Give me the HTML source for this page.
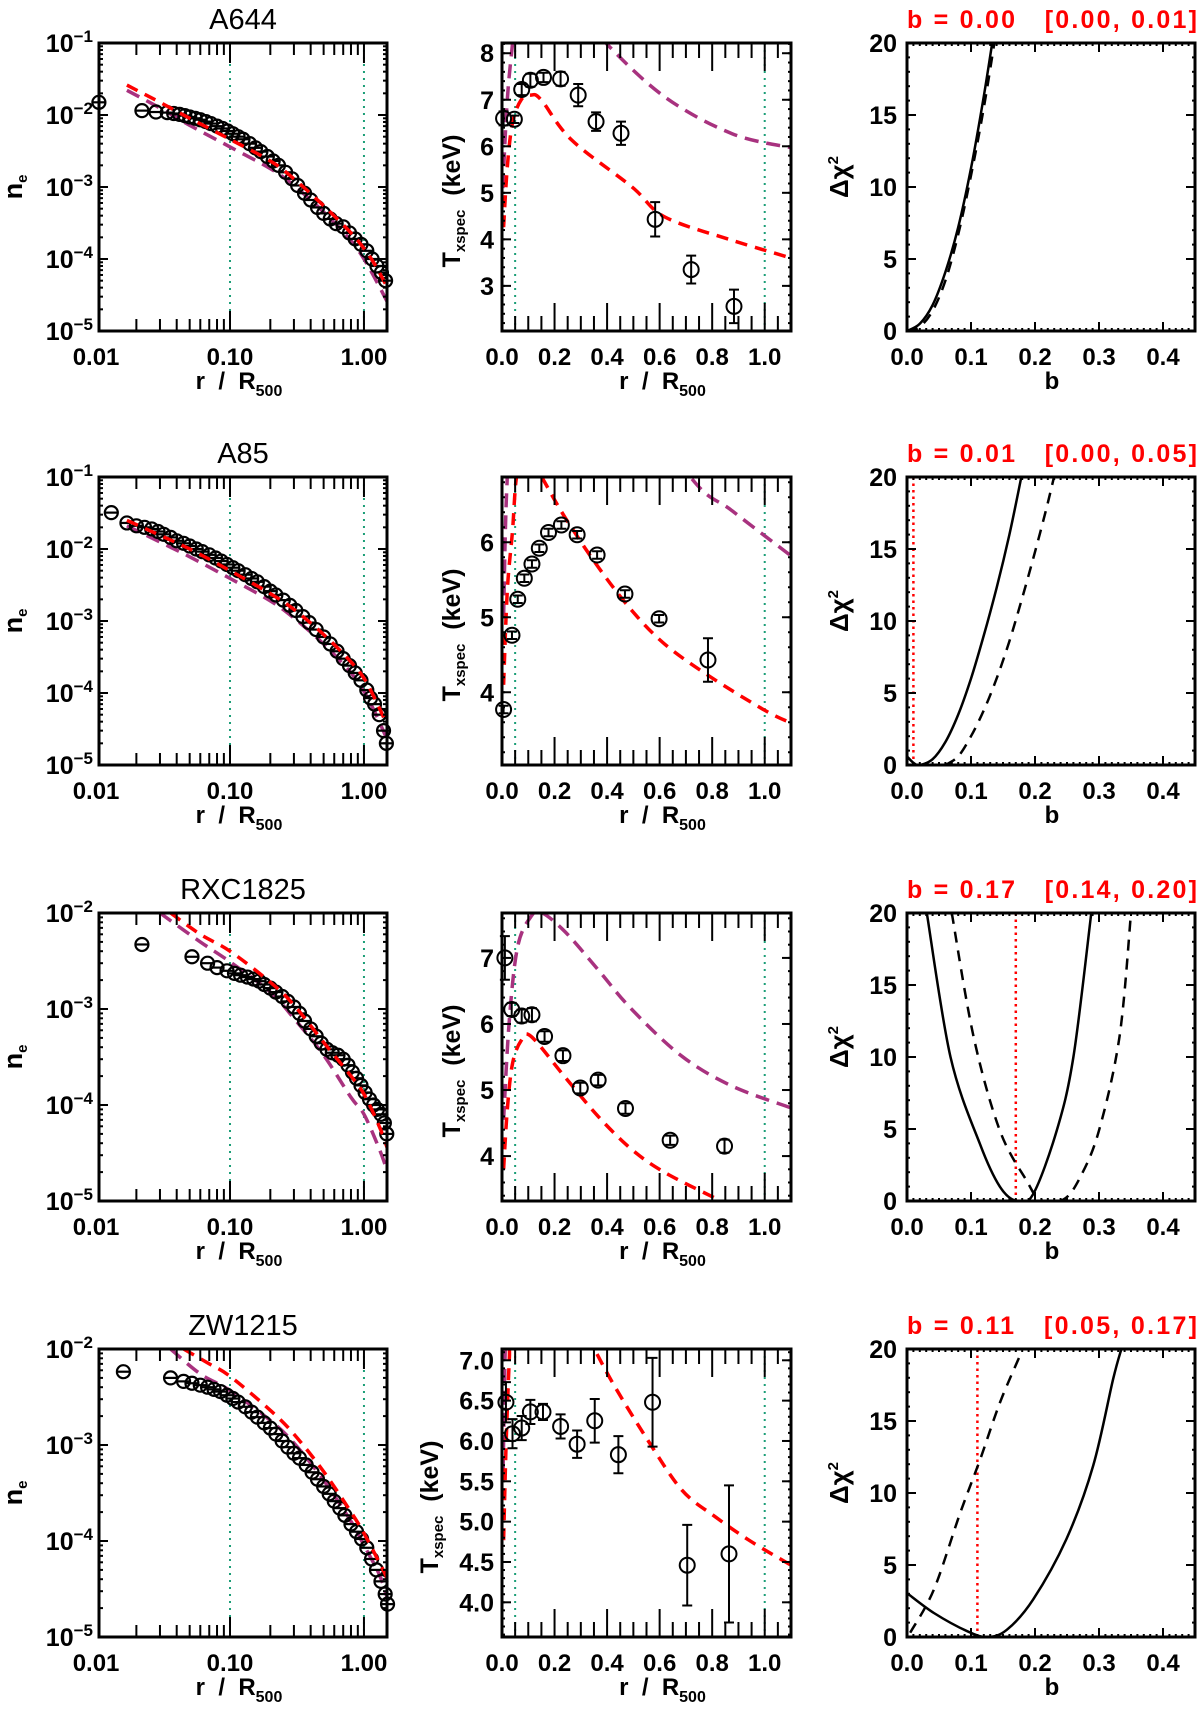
<!DOCTYPE html>
<html><head><meta charset="utf-8"><style>
html,body{margin:0;padding:0;background:#fff;}
svg{display:block;font-family:"Liberation Sans",sans-serif;}
</style></head><body>
<svg id="chart" width="1200" height="1714" viewBox="0 0 1200 1714" xmlns="http://www.w3.org/2000/svg"></svg>
<script>
// ---------- data ----------
const rowNames = ['A644','A85','RXC1825','ZW1215'];
const bBest = [0.00, 0.01, 0.17, 0.11];
const bLo = [0.00, 0.00, 0.14, 0.05];
const bHi = [0.01, 0.05, 0.20, 0.17];

// density profiles
const neR_A644 = [0.0105,0.022,0.028,0.034,0.038,0.042,0.046,0.05,0.055,0.06,0.066,0.072,0.08,0.088,0.096,0.105,0.115,0.125,0.14,0.155,0.17,0.19,0.21,0.23,0.26,0.29,0.32,0.36,0.4,0.45,0.5,0.56,0.62,0.7,0.78,0.86,0.95,1.05,1.15,1.25,1.35,1.45];
const neV_A644 = [1.5e-2,1.15e-2,1.1e-2,1.08e-2,1.05e-2,1.02e-2,9.8e-3,9.4e-3,9.0e-3,8.6e-3,8.1e-3,7.6e-3,7.0e-3,6.5e-3,6.0e-3,5.5e-3,5.0e-3,4.6e-3,4.0e-3,3.5e-3,3.1e-3,2.65e-3,2.3e-3,2.0e-3,1.6e-3,1.3e-3,1.05e-3,8.2e-4,6.6e-4,5.2e-4,4.3e-4,3.6e-4,3.1e-4,2.8e-4,2.3e-4,1.9e-4,1.6e-4,1.3e-4,1.0e-4,8e-5,6.5e-5,5e-5];
const neR_A85 = [0.013,0.017,0.02,0.023,0.026,0.029,0.032,0.036,0.04,0.045,0.05,0.056,0.062,0.07,0.078,0.086,0.095,0.105,0.115,0.13,0.145,0.16,0.18,0.2,0.22,0.25,0.28,0.31,0.35,0.39,0.44,0.5,0.56,0.63,0.7,0.78,0.86,0.95,1.05,1.12,1.2,1.3,1.4,1.47];
const neV_A85 = [3.2e-2,2.3e-2,2.1e-2,2.0e-2,1.9e-2,1.75e-2,1.6e-2,1.45e-2,1.3e-2,1.2e-2,1.1e-2,1.0e-2,9.2e-3,8.3e-3,7.5e-3,6.8e-3,6.1e-3,5.5e-3,5.0e-3,4.4e-3,3.9e-3,3.5e-3,3.0e-3,2.6e-3,2.3e-3,1.95e-3,1.65e-3,1.4e-3,1.15e-3,9.5e-4,7.6e-4,6.0e-4,4.8e-4,3.8e-4,3.0e-4,2.4e-4,1.9e-4,1.5e-4,1.1e-4,8.5e-5,7e-5,5e-5,3e-5,2e-5];
const neR_RXC1825 = [0.022,0.052,0.068,0.08,0.095,0.108,0.12,0.135,0.15,0.165,0.18,0.2,0.22,0.245,0.27,0.3,0.33,0.36,0.4,0.44,0.48,0.53,0.58,0.64,0.7,0.76,0.82,0.88,0.95,1.02,1.1,1.18,1.26,1.34,1.42,1.48];
const neV_RXC1825 = [4.7e-3,3.5e-3,3.0e-3,2.7e-3,2.5e-3,2.35e-3,2.25e-3,2.15e-3,2.05e-3,1.95e-3,1.8e-3,1.65e-3,1.5e-3,1.35e-3,1.2e-3,1.05e-3,9e-4,7.5e-4,6.2e-4,5.2e-4,4.4e-4,3.8e-4,3.5e-4,3.3e-4,3.0e-4,2.6e-4,2.2e-4,1.9e-4,1.6e-4,1.35e-4,1.15e-4,1.0e-4,9e-5,8e-5,6.5e-5,5e-5];
const neR_ZW1215 = [0.016,0.036,0.045,0.052,0.06,0.068,0.076,0.085,0.095,0.105,0.115,0.13,0.145,0.16,0.18,0.2,0.22,0.245,0.27,0.3,0.33,0.37,0.41,0.45,0.5,0.55,0.6,0.66,0.72,0.8,0.88,0.96,1.05,1.14,1.24,1.34,1.44,1.5];
const neV_ZW1215 = [5.8e-3,5.0e-3,4.6e-3,4.4e-3,4.2e-3,4.0e-3,3.8e-3,3.6e-3,3.3e-3,3.05e-3,2.8e-3,2.5e-3,2.2e-3,1.95e-3,1.7e-3,1.5e-3,1.3e-3,1.1e-3,9.5e-4,8.2e-4,7.3e-4,6.2e-4,5.2e-4,4.4e-4,3.7e-4,3.1e-4,2.6e-4,2.2e-4,1.85e-4,1.5e-4,1.25e-4,1.05e-4,8.5e-5,6.5e-5,5e-5,3.8e-5,2.8e-5,2.2e-5];

// density models (red = fit, purple = alternative)
const nmR_A644 = [0.017,0.03,0.05,0.1,0.2,0.3,0.5,0.8,1.0,1.2,1.5];
const nmRed_A644 = [2.6e-2,1.5e-2,9e-3,4.6e-3,2.3e-3,1.3e-3,5.5e-4,2.3e-4,1.4e-4,8.5e-5,4e-5];
const nmPur_A644 = [2.2e-2,1.25e-2,7.2e-3,3.6e-3,1.8e-3,1.05e-3,4.5e-4,1.8e-4,1.0e-4,5.5e-5,2.5e-5];
const nmR_A85 = [0.017,0.03,0.05,0.1,0.2,0.3,0.5,0.8,1.0,1.2,1.5];
const nmRed_A85 = [2.5e-2,1.55e-2,1.0e-2,5e-3,2.4e-3,1.45e-3,6.5e-4,2.7e-4,1.6e-4,8.5e-5,3.5e-5];
const nmPur_A85 = [2.1e-2,1.25e-2,7.8e-3,3.9e-3,1.9e-3,1.1e-3,4.8e-4,1.9e-4,1.05e-4,5.5e-5,2.2e-5];
const nmR_RXC1825 = [0.036,0.06,0.1,0.2,0.3,0.5,0.8,1.0,1.3,1.5];
const nmRed_RXC1825 = [1e-2,6e-3,4e-3,1.9e-3,1.1e-3,4.5e-4,2e-4,1.3e-4,6e-5,3.5e-5];
const nmPR_RXC1825 = [0.03,0.06,0.1,0.2,0.3,0.5,0.8,1.0,1.3,1.5];
const nmPur_RXC1825 = [1e-2,5e-3,3.1e-3,1.5e-3,8e-4,3.3e-4,1.2e-4,8e-5,3.5e-5,2e-5];
const nmR_ZW1215 = [0.045,0.07,0.1,0.2,0.3,0.5,0.8,1.0,1.3,1.5];
const nmRed_ZW1215 = [1e-2,7e-3,5.2e-3,2.3e-3,1.3e-3,5.3e-4,2.0e-4,1.2e-4,6e-5,4e-5];
const nmPR_ZW1215 = [0.036,0.06,0.1,0.2,0.3,0.5,0.8,1.0,1.3,1.5];
const nmPur_ZW1215 = [1e-2,5.5e-3,3.7e-3,1.8e-3,1.05e-3,4.3e-4,1.6e-4,9e-5,4.5e-5,2.5e-5];

// temperature profiles
const tR_A644 = [0.006,0.047,0.075,0.108,0.158,0.223,0.29,0.358,0.453,0.583,0.72,0.883];
const tV_A644 = [6.6,6.58,7.22,7.42,7.48,7.45,7.1,6.53,6.28,4.43,3.35,2.56];
const tE_A644 = [0.15,0.08,0.12,0.14,0.1,0.15,0.24,0.2,0.25,0.37,0.3,0.36];
const tR_A85 = [0.006,0.038,0.06,0.085,0.114,0.142,0.177,0.226,0.286,0.362,0.468,0.598,0.784];
const tV_A85 = [3.77,4.76,5.24,5.52,5.71,5.92,6.13,6.23,6.1,5.83,5.31,4.98,4.43];
const tE_A85 = [0.05,0.05,0.05,0.05,0.05,0.05,0.05,0.05,0.05,0.05,0.05,0.05,0.29];
const tR_RXC1825 = [0.011,0.037,0.075,0.114,0.162,0.232,0.298,0.366,0.47,0.64,0.847];
const tV_RXC1825 = [7.0,6.22,6.12,6.14,5.81,5.52,5.03,5.15,4.72,4.24,4.15];
const tE_RXC1825 = [0.33,0.1,0.1,0.1,0.08,0.08,0.08,0.08,0.08,0.07,0.1];
const tR_ZW1215 = [0.015,0.04,0.075,0.108,0.156,0.223,0.286,0.353,0.443,0.573,0.705,0.864];
const tV_ZW1215 = [6.48,6.09,6.16,6.36,6.36,6.18,5.96,6.25,5.83,6.48,4.46,4.6];
const tE_ZW1215 = [0.25,0.18,0.15,0.15,0.1,0.15,0.17,0.27,0.23,0.55,0.5,0.85];

// temperature models
const tmRR_A644 = [0.006,0.02,0.04,0.073,0.11,0.149,0.264,0.494,0.62,0.876,1.1];
const tmRed_A644 = [4.26,5.55,6.5,7.0,7.1,7.0,6.14,5.13,4.48,3.98,3.6];
const tmPR_A644 = [0.003,0.02,0.04,0.06,0.2,0.39,0.62,0.876,1.1];
const tmPur_A644 = [5.1,7.0,8.2,9.2,9.5,8.25,7.06,6.27,5.97];
const tmRR_A85 = [0.006,0.02,0.04,0.054,0.08,0.156,0.24,0.366,0.494,0.62,0.787,1.0,1.1];
const tmRed_A85 = [4.1,5.35,6.15,6.84,7.3,6.84,6.33,5.67,5.09,4.64,4.22,3.76,3.59];
const tmPR_A85 = [0.006,0.019,0.05,0.4,0.717,0.876,1.1];
const tmPur_A85 = [5.0,6.78,8.0,8.5,6.87,6.42,5.82];
const tmRR_RXC1825 = [0.006,0.02,0.04,0.073,0.111,0.239,0.366,0.494,0.62,0.832,0.9];
const tmRed_RXC1825 = [3.8,4.7,5.4,5.75,5.81,5.2,4.6,4.1,3.75,3.32,3.15];
const tmPR_RXC1825 = [0.006,0.028,0.06,0.111,0.149,0.239,0.366,0.494,0.685,0.876,1.1];
const tmPur_RXC1825 = [4.55,6.07,7.18,7.63,7.69,7.4,6.82,6.22,5.51,5.06,4.73];
const tmRR_ZW1215 = [0.006,0.015,0.028,0.04,0.3,0.347,0.43,0.557,0.685,0.812,0.94,1.1];
const tmRed_ZW1215 = [4.77,5.88,7.04,7.6,7.5,7.17,6.67,6.0,5.39,5.06,4.77,4.46];
const tmPR_ZW1215 = [0.004,0.011,0.016];
const tmPur_ZW1215 = [5.63,6.96,7.5];

// delta chi^2 curves
const cB_sol_A644 = [0,0.02,0.04,0.06,0.08,0.1,0.12,0.14];
const cV_sol_A644 = [0,0.5,1.8,4.1,7.2,11.3,16.3,22];
const cB_das_A644 = [0,0.02,0.04,0.06,0.08,0.1,0.12,0.14];
const cV_das_A644 = [0,0.3,1.4,3.5,6.7,10.8,15.5,21];
const cB_sol_A85 = [0,0.01,0.02,0.04,0.06,0.08,0.1,0.12,0.14,0.16,0.18];
const cV_sol_A85 = [0.6,0.15,0,0.4,1.6,3.5,6,9,12.3,16,20.3];
const cB_das_A85 = [0.06,0.08,0.1,0.12,0.14,0.16,0.18,0.2,0.22,0.235];
const cV_das_A85 = [0,0.6,2,3.8,6,8.6,11.6,14.8,18.2,21];
const cB_sol_RXC1825 = [0.031,0.068,0.114,0.145,0.171,0.197,0.234,0.26,0.288];
const cV_sol_RXC1825 = [20,10,3.95,1.0,0,0.47,4.9,10,20];
const cB_das_RXC1825 = [0.07,0.104,0.145,0.187,0.208,0.244,0.27,0.3,0.332,0.35];
const cV_das_RXC1825 = [20,11.4,4.9,1.4,0.1,0.1,1.6,4.9,11.4,20];
const cB_sol_ZW1215 = [0,0.042,0.094,0.125,0.156,0.197,0.249,0.291,0.322,0.335];
const cV_sol_ZW1215 = [3.05,1.67,0.4,0,0.5,2.6,6.8,11.9,17.9,20];
const cB_das_ZW1215 = [0.005,0.042,0.083,0.114,0.145,0.177];
const cV_das_ZW1215 = [0.3,3.3,8.6,12.3,16.25,19.6];

// axis ranges / tick labels
const neLogRange = [[-5,-1],[-5,-1],[-5,-2],[-5,-2]];
const tRange = [[2.03,8.22],[3.03,6.87],[3.32,7.68],[3.57,7.14]];
const tTickVals = [[3,4,5,6,7,8],[4,5,6],[4,5,6,7],[4.0,4.5,5.0,5.5,6.0,6.5,7.0]];
const tTickLabels = [['3','4','5','6','7','8'],['4','5','6'],['4','5','6','7'],['4.0','4.5','5.0','5.5','6.0','6.5','7.0']];
const rLinTicks = [0,0.2,0.4,0.6,0.8,1.0];
const rLinLabels = ['0.0','0.2','0.4','0.6','0.8','1.0'];
const rLogTicks = [0.01,0.1,1];
const rLogLabels = ['0.01','0.10','1.00'];
const bTicks = [0,0.1,0.2,0.3,0.4];
const bLabels = ['0.0','0.1','0.2','0.3','0.4'];
const chiTicks = [0,5,10,15,20];
const chiLabels = ['0','5','10','15','20'];

const neR = [neR_A644,neR_A85,neR_RXC1825,neR_ZW1215];
const neV = [neV_A644,neV_A85,neV_RXC1825,neV_ZW1215];
const nmRR = [nmR_A644,nmR_A85,nmR_RXC1825,nmR_ZW1215];
const nmRed = [nmRed_A644,nmRed_A85,nmRed_RXC1825,nmRed_ZW1215];
const nmPR = [nmR_A644,nmR_A85,nmPR_RXC1825,nmPR_ZW1215];
const nmPur = [nmPur_A644,nmPur_A85,nmPur_RXC1825,nmPur_ZW1215];
const tR = [tR_A644,tR_A85,tR_RXC1825,tR_ZW1215];
const tV = [tV_A644,tV_A85,tV_RXC1825,tV_ZW1215];
const tE = [tE_A644,tE_A85,tE_RXC1825,tE_ZW1215];
const tmRR = [tmRR_A644,tmRR_A85,tmRR_RXC1825,tmRR_ZW1215];
const tmRed = [tmRed_A644,tmRed_A85,tmRed_RXC1825,tmRed_ZW1215];
const tmPR = [tmPR_A644,tmPR_A85,tmPR_RXC1825,tmPR_ZW1215];
const tmPur = [tmPur_A644,tmPur_A85,tmPur_RXC1825,tmPur_ZW1215];
const cBs = [cB_sol_A644,cB_sol_A85,cB_sol_RXC1825,cB_sol_ZW1215];
const cVs = [cV_sol_A644,cV_sol_A85,cV_sol_RXC1825,cV_sol_ZW1215];
const cBd = [cB_das_A644,cB_das_A85,cB_das_RXC1825,cB_das_ZW1215];
const cVd = [cV_das_A644,cV_das_A85,cV_das_RXC1825,cV_das_ZW1215];

// ---------- drawing ----------
const NS = 'http://www.w3.org/2000/svg';
const svg = document.getElementById('chart');
function mk(tag, attrs, parent){
  const e = document.createElementNS(NS, tag);
  for (const k in attrs) e.setAttribute(k, attrs[k]);
  (parent || svg).appendChild(e);
  return e;
}
const COLS = [[99,387],[502,791],[907,1195]];
const TOPS = [43,477,913,1349];
const H = 288;
const RED = '#ff0000', PUR = '#a8327f', GRN = '#1b9e77';
function linS(d0,d1,p0,p1){ return v => p0 + (v-d0)/(d1-d0)*(p1-p0); }
function logS(d0,d1,p0,p1){ return v => p0 + (Math.log10(v)-d0)/(d1-d0)*(p1-p0); }
// smooth (Catmull-Rom) path through mapped points
function pathD(xs, ys, X, Y){
  const p = xs.map((x,i)=>[X(x), Y(ys[i])]);
  if (p.length < 3) return p.map((q,i)=>(i?'L':'M')+q[0].toFixed(1)+','+q[1].toFixed(1)).join('');
  let d = 'M'+p[0][0].toFixed(1)+','+p[0][1].toFixed(1);
  for (let i=0;i<p.length-1;i++){
    const p0 = p[Math.max(i-1,0)], p1 = p[i], p2 = p[i+1], p3 = p[Math.min(i+2,p.length-1)];
    const c1x = p1[0]+(p2[0]-p0[0])/6, c1y = p1[1]+(p2[1]-p0[1])/6;
    const c2x = p2[0]-(p3[0]-p1[0])/6, c2y = p2[1]-(p3[1]-p1[1])/6;
    d += 'C'+c1x.toFixed(1)+','+c1y.toFixed(1)+' '+c2x.toFixed(1)+','+c2y.toFixed(1)+' '+p2[0].toFixed(1)+','+p2[1].toFixed(1);
  }
  return d;
}
let clipN = 0;
function clipFor(x0,x1,top){
  const id = 'clip'+(clipN++);
  const cp = mk('clipPath',{id:id});
  mk('rect',{x:x0,y:top,width:x1-x0,height:H},cp);
  return 'url(#'+id+')';
}
function tick(g, x1,y1,x2,y2){ mk('line',{x1:x1,y1:y1,x2:x2,y2:y2,stroke:'#000','stroke-width':2},g); }
function box(g,x0,x1,top){ mk('rect',{x:x0,y:top,width:x1-x0,height:H,fill:'none',stroke:'#000','stroke-width':3},g); }
function label(g, x, y, txt, anchor, size){
  const t = mk('text',{x:x,y:y,'text-anchor':anchor||'middle','font-size':size||24,'font-weight':'bold',fill:'#000'},g);
  t.textContent = txt;
  return t;
}

for (let r = 0; r < 4; r++){
  const top = TOPS[r], bot = top + H;

  // ===== left: density =====
  {
    const [x0,x1] = COLS[0];
    const g = mk('g',{});
    
    
    const X = logS(-1.978, 0.172, x0, x1);
    const Y = logS(neLogRange[r][0], neLogRange[r][1], bot, top);
    const cp = clipFor(x0,x1,top);
    const title = mk('text',{x:(x0+x1)/2,y:top-14,'text-anchor':'middle','font-size':29,fill:'#000'},g);
    title.textContent = rowNames[r];
    
    
    [0.1,1.0].forEach(v=>{
      const l = mk('line',{x1:X(v),x2:X(v),y1:top,y2:bot,stroke:GRN,'stroke-width':2,'stroke-dasharray':'2,5'},g);
      
      
    });
    const pur = mk('path',{d:pathD(nmPR[r],nmPur[r],X,Y),fill:'none',stroke:PUR,'stroke-width':3.5,'stroke-dasharray':'14,8','clip-path':cp},g);
    
    
    const pts = mk('g',{fill:'none',stroke:'#000','stroke-width':2.2},g);
    
    
    neR[r].forEach((rv,i)=>{
      const cx = X(rv), cy = Y(neV[r][i]);
      const c = mk('circle',{cx:cx,cy:cy,r:6.5},pts);
      
      
      mk('line',{x1:cx-6,x2:cx+6,y1:cy,y2:cy},pts);
    });
    const red = mk('path',{d:pathD(nmRR[r],nmRed[r],X,Y),fill:'none',stroke:RED,'stroke-width':3.5,'stroke-dasharray':'12,8','clip-path':cp},g);
    
    
    for (let d=-2; d<=0; d++) for (let k=1;k<=9;k++){
      const v = k*Math.pow(10,d), px = X(v);
      if (px < x0-0.5 || px > x1+0.5) continue;
      const len = k===1 ? 20 : 12;
      tick(g,px,bot,px,bot-len); tick(g,px,top,px,top+len);
    }
    for (let d=neLogRange[r][0]; d<=neLogRange[r][1]; d++){
      for (let k=1;k<=9;k++){
        const v = k*Math.pow(10,d), py = Y(v);
        if (py < top-0.5 || py > bot+0.5) continue;
        const len = k===1 ? 9 : 4;
        tick(g,x0,py,x0+len,py); tick(g,x1,py,x1-len,py);
      }
      const t = label(g, 93, Y(Math.pow(10,d))+9, '10', 'end', 25);
      const s = mk('tspan',{dy:-10,'font-size':17},t);
      s.textContent = '\u2212' + (-d);
      
      
    }
    rLogTicks.forEach((v,i)=>{
      const t = label(g, X(v), bot+34, rLogLabels[i]);
      
      
    });
    const xt = label(g, (x0+x1)/2-4, bot+58, 'r  /  R');
    xt.setAttribute('style','white-space:pre');
    const sub = mk('tspan',{dy:7,'font-size':16},xt); sub.textContent = '500';
    
    
    const yt = mk('text',{transform:`translate(22,${top+H/2}) rotate(-90)`,'text-anchor':'middle','font-size':27,'font-weight':'bold'},g);
    yt.textContent = 'n';
    const ysub = mk('tspan',{dy:5,'font-size':15},yt); ysub.textContent = 'e';
    
    
    box(g,x0,x1,top);
  }

  // ===== middle: temperature =====
  {
    const [x0,x1] = COLS[1];
    const g = mk('g',{});
    
    
    const X = linS(0,1.1,x0,x1);
    const Y = linS(tRange[r][0], tRange[r][1], bot, top);
    const cp = clipFor(x0,x1,top);
    [0.05,1.0].forEach(v=>{
      const l = mk('line',{x1:X(v),x2:X(v),y1:top,y2:bot,stroke:GRN,'stroke-width':2,'stroke-dasharray':'2,5'},g);
      
      
    });
    const pur = mk('path',{d:pathD(tmPR[r],tmPur[r],X,Y),fill:'none',stroke:PUR,'stroke-width':3.5,'stroke-dasharray':'14,8','clip-path':cp},g);
    
    
    const red = mk('path',{d:pathD(tmRR[r],tmRed[r],X,Y),fill:'none',stroke:RED,'stroke-width':3.5,'stroke-dasharray':'12,8','clip-path':cp},g);
    
    
    const pts = mk('g',{fill:'none',stroke:'#000','stroke-width':2},g);
    
    
    tR[r].forEach((rv,i)=>{
      const cx = X(rv), cy = Y(tV[r][i]);
      const yHi = Math.max(Y(tV[r][i]+tE[r][i]), top), yLo = Math.min(Y(tV[r][i]-tE[r][i]), bot);
      const c = mk('circle',{cx:cx,cy:cy,r:7.5},pts);
      
      
      const e = mk('path',{d:`M${cx},${yHi}L${cx},${yLo}M${cx-5},${yHi}L${cx+5},${yHi}M${cx-5},${yLo}L${cx+5},${yLo}`},pts);
      
      
    });
    for (let k=0;k<=22;k++){
      const v = k*0.05, px = X(v);
      const len = (k%4===0) ? 28 : 15;
      tick(g,px,bot,px,bot-len); tick(g,px,top,px,top+len);
    }
    const step = r===3 ? 0.1 : 0.2;
    for (let v=Math.ceil(tRange[r][0]/step)*step; v<=tRange[r][1]; v+=step){
      const py = Y(v); tick(g,x0,py,x0+3,py); tick(g,x1,py,x1-3,py);
    }
    tTickVals[r].forEach((v,i)=>{
      const py = Y(v); tick(g,x0,py,x0+9,py); tick(g,x1,py,x1-9,py);
      const t = label(g, x0-8, py+9, tTickLabels[r][i], 'end', 25);
      
      
    });
    rLinTicks.forEach((v,i)=>{
      const t = label(g, X(v), bot+34, rLinLabels[i]);
      
      
    });
    const xt = label(g, (x0+x1)/2+16, bot+58, 'r  /  R');
    xt.setAttribute('style','white-space:pre');
    const sub = mk('tspan',{dy:7,'font-size':16},xt); sub.textContent = '500';
    
    
    const ytx = r===3 ? 438 : 460;
    const yt = mk('text',{transform:`translate(${ytx},${top+H/2+14}) rotate(-90)`,'text-anchor':'middle','font-size':25,'font-weight':'bold'},g);
    yt.textContent = 'T';
    const ysub = mk('tspan',{dy:5,'font-size':15},yt); ysub.textContent = 'xspec';
    const yrest = mk('tspan',{dy:-5,'font-size':25},yt); yrest.textContent = '  (keV)';
    yt.setAttribute('style','white-space:pre');
    
    
    box(g,x0,x1,top);
  }

  // ===== right: delta chi^2 =====
  {
    const [x0,x1] = COLS[2];
    const g = mk('g',{});
    
    
    const X = linS(0,0.45,x0,x1);
    const Y = linS(0,20,bot,top);
    const cp = clipFor(x0,x1,top);
    const hdr = mk('text',{x:x0,y:top-15,'font-size':25,'font-weight':'bold',fill:RED,textLength:x1-x0+2,lengthAdjust:'spacing',style:'white-space:pre'},g);
    hdr.textContent = `b = ${bBest[r].toFixed(2)}   [${bLo[r].toFixed(2)}, ${bHi[r].toFixed(2)}]`;
    
    
    const bl = mk('line',{x1:X(bBest[r]),x2:X(bBest[r]),y1:top,y2:bot,stroke:RED,'stroke-width':2.5,'stroke-dasharray':'2.5,4'},g);
    
    
    const ds = mk('path',{d:pathD(cBd[r],cVd[r],X,Y),fill:'none',stroke:'#000','stroke-width':2.5,'stroke-dasharray':'11,8','clip-path':cp},g);
    
    
    const so = mk('path',{d:pathD(cBs[r],cVs[r],X,Y),fill:'none',stroke:'#000','stroke-width':2.5,'clip-path':cp},g);
    
    
    for (let k=0;k<=45;k++){
      const px = X(k*0.01), len = (k%10===0) ? 9 : 3;
      tick(g,px,bot,px,bot-len); tick(g,px,top,px,top+len);
    }
    for (let k=0;k<=20;k++){
      const py = Y(k), len = (k%5===0) ? 9 : 3;
      tick(g,x0,py,x0+len,py); tick(g,x1,py,x1-len,py);
    }
    chiTicks.forEach((v,i)=>{
      const t = label(g, x0-10, Y(v)+9, chiLabels[i], 'end', 25);
      
      
    });
    bTicks.forEach((v,i)=>{
      const t = label(g, X(v), bot+34, bLabels[i]);
      
      
    });
    const xt = label(g, (x0+x1)/2+1, bot+58, 'b');
    
    
    const yt = mk('text',{transform:`translate(848,${top+H/2-10}) rotate(-90)`,'text-anchor':'middle','font-size':26,'font-weight':'bold'},g);
    yt.textContent = '\u0394\u03C7';
    const sup = mk('tspan',{dy:-10,'font-size':15},yt); sup.textContent = '2';
    
    
    box(g,x0,x1,top);
  }
}
</script>
</body></html>
